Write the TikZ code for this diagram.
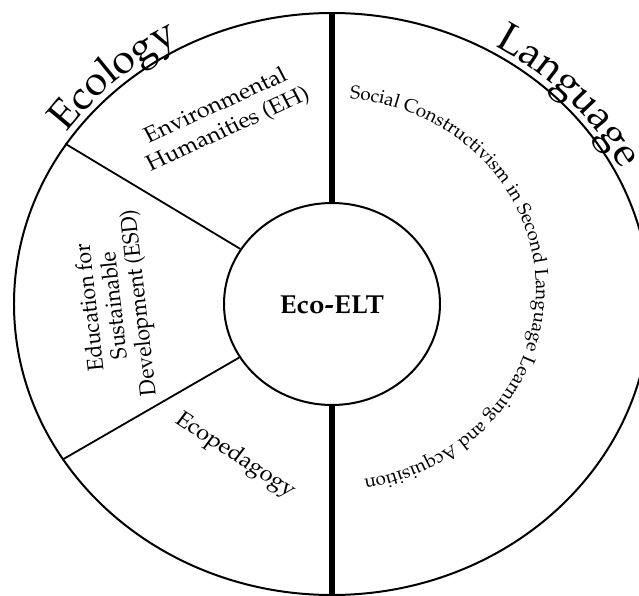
\documentclass[tikz,border=0pt]{standalone}
\usepackage[T1]{fontenc}
\usepackage{mathpazo}
\usepackage{tikz}
\usetikzlibrary{shapes.geometric, decorations.text}

\begin{document}
\begin{tikzpicture}[
    x=0.5pt, y=0.5pt,
    ring/.style={ellipse, draw=black, line width=1pt, inner sep=0pt},
    divider/.style={draw=black, line width=0.9pt},
    spine/.style={draw=black, line width=3pt},
    topic/.style={align=center, font=\fontsize{11}{13}\selectfont, xscale=1.07},
    hub/.style={font=\fontsize{13}{15}\selectfont\bfseries, xscale=1.07}
]
    \useasboundingbox (-332,-292) rectangle (307,304);

    % Anillos
    \node[ring, minimum width=318pt, minimum height=291pt] (outer) at (0,0) {};
    \node[ring, minimum width=108pt, minimum height=101pt] (core) at (0,0) {};
    \node[hub] (hubtext) at (0,-1) {Eco-ELT};

    % Divisiones
    \draw[spine] (outer.north) -- (core.north);
    \draw[spine] (core.south) -- (outer.south);
    \draw[divider] (core.149) -- (outer.149);
    \draw[divider] (core.210) -- (outer.210);

    % Textos
    \node[topic, rotate=26] (eh) at (-110,186) {Environmental\\Humanities (EH)};
    \node[topic, font=\fontsize{10.6}{11.5}\selectfont, rotate=96] (esd) at (-216,-1) {Education for\\Sustainable\\Development (ESD)};
    \node[topic, rotate=-35] (ecoped) at (-97,-152) {Ecopedagogy};

    \path[decorate, decoration={text along path, text align=center,
        text={|\fontsize{20.5}{24}\selectfont|Ecology}}]
        (162:325 and 298) arc[start angle=162, end angle=102, x radius=325, y radius=298];
    \path[decorate, decoration={text along path, text align=center,
        text={|\fontsize{20.5}{24}\selectfont|Language}}]
        (74:325 and 298) arc[start angle=74, end angle=12, x radius=325, y radius=298];
    \path[decorate, decoration={text along path, text align=center,
        text={|\fontsize{9.4}{12}\selectfont|Social Constructivism in Second Language Learning and Acquisition}}]
        (0,14) ++(92:204 and 192) arc[start angle=92, end angle=-88, x radius=204, y radius=192];

\end{tikzpicture}
\end{document}
